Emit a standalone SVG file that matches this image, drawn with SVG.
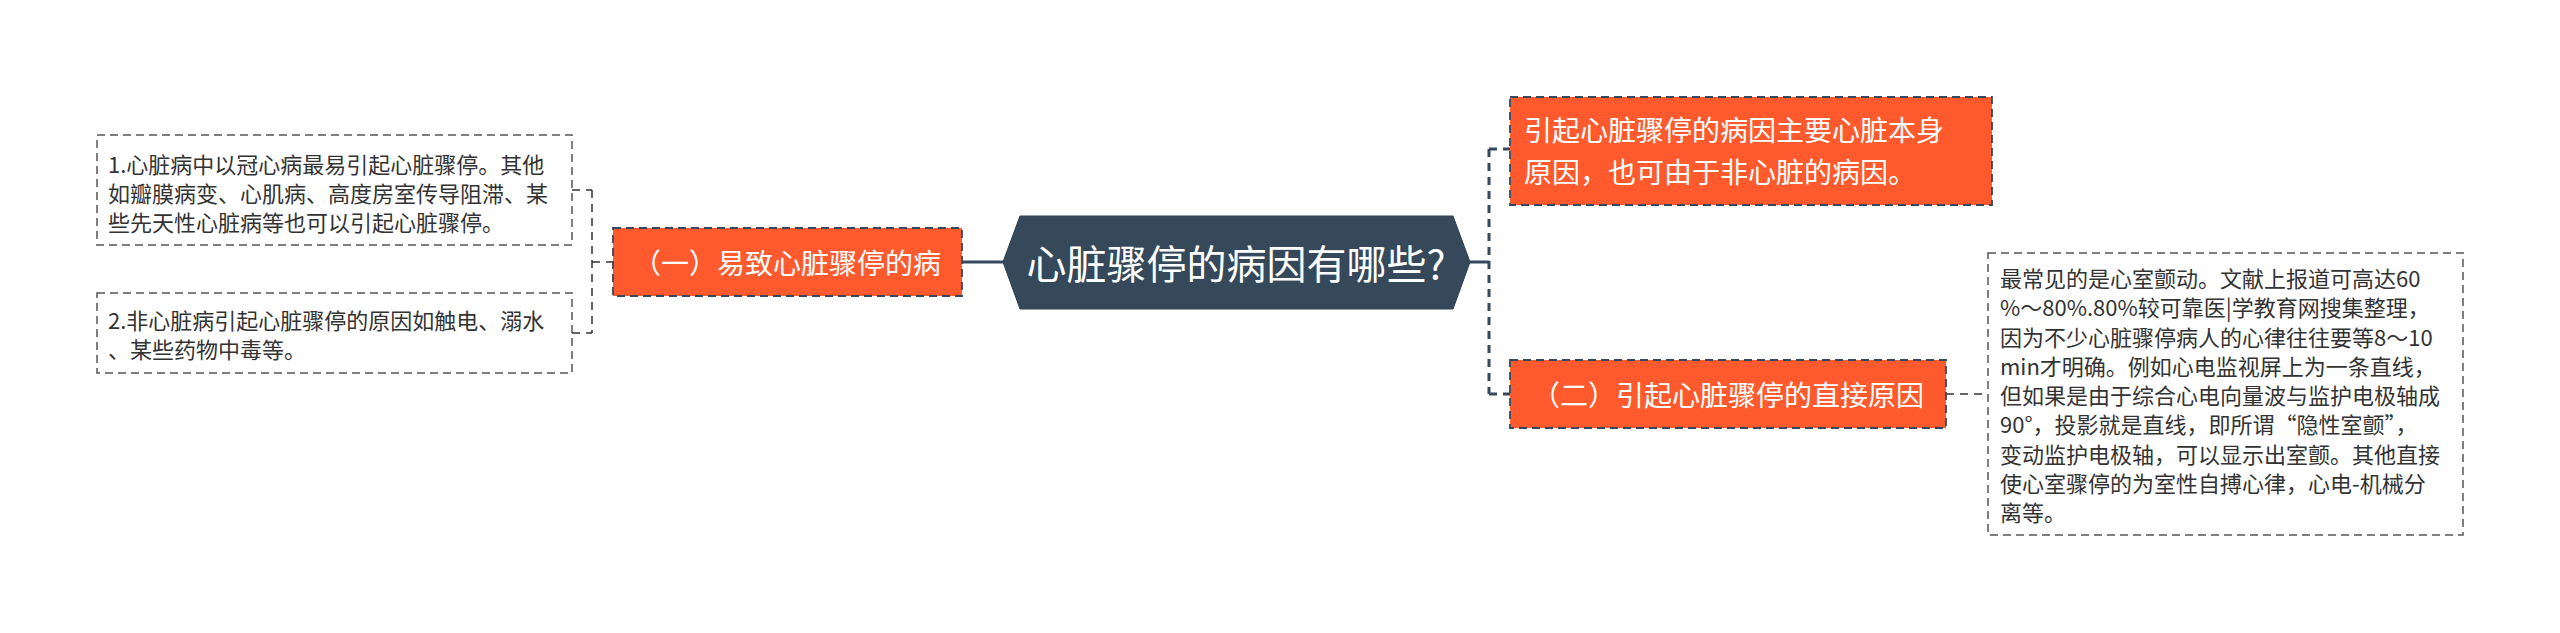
<svg xmlns="http://www.w3.org/2000/svg" width="2560" height="633" viewBox="0 0 2560 633">
<style>
text{font-family:"Noto Sans CJK SC","Noto Sans",sans-serif;dominant-baseline:central}
.leaf rect{fill:#fff;stroke:#555;stroke-width:1.5;stroke-dasharray:8 5}
.leaf text{font-size:22px;fill:#333}
.org rect{fill:#ff5a2d;stroke:#34495e;stroke-width:1.8;stroke-dasharray:8 5}
.org text{font-size:28px;fill:#fff}
.conL{fill:none;stroke:#333;stroke-width:1.5;stroke-dasharray:8 6}
.conR{fill:none;stroke:#34495e;stroke-width:3;stroke-dasharray:8 6}
.solid{fill:none;stroke:#34495e;stroke-width:3}
</style>
<rect width="2560" height="633" fill="#fff"/>
<g id="connectors">
<path class="conL" d="M592,190V333M572,190H592M572,333H592M592,262H613"/>
<path class="solid" d="M962,262H1003M1470,262H1489"/>
<path class="conR" d="M1489,149V394M1489,149H1510M1489,394H1510"/>
<path class="conL" d="M1946,394H1988"/>
</g>
<g id="center">
<polygon points="1003,262 1020,216 1453,216 1470,262 1453,309 1020,309" fill="#36495b" stroke="#2c3e50" stroke-width="1"/>
<text x="1236" y="262" font-size="40" fill="#fff" text-anchor="middle">心脏骤停的病因有哪些?</text>
</g>
<g id="n1" class="org">
<rect x="613" y="228" width="349" height="68"/>
<text x="787" y="262" text-anchor="middle">（一）易致心脏骤停的病</text>
</g>
<g id="n1a" class="leaf">
<rect x="97" y="135" width="475" height="110"/>
<text x="108" y="163">1.心脏病中以冠心病最易引起心脏骤停。其他</text>
<text x="108" y="192">如瓣膜病变、心肌病、高度房室传导阻滞、某</text>
<text x="108" y="221">些先天性心脏病等也可以引起心脏骤停。</text>
</g>
<g id="n1b" class="leaf">
<rect x="97" y="293" width="475" height="80"/>
<text x="108" y="319">2.非心脏病引起心脏骤停的原因如触电、溺水</text>
<text x="108" y="348">、某些药物中毒等。</text>
</g>
<g id="n2" class="org">
<rect x="1510" y="97" width="482" height="108"/>
<text x="1524" y="129">引起心脏骤停的病因主要心脏本身</text>
<text x="1524" y="171">原因，也可由于非心脏的病因。</text>
</g>
<g id="n3" class="org">
<rect x="1510" y="360" width="436" height="68"/>
<text x="1728" y="394" text-anchor="middle">（二）引起心脏骤停的直接原因</text>
</g>
<g id="n3a" class="leaf">
<rect x="1988" y="253" width="475" height="282"/>
<text x="2000" y="277">最常见的是心室颤动。文献上报道可高达60</text>
<text x="2000" y="306">%～80%.80%较可靠医|学教育网搜集整理，</text>
<text x="2000" y="336">因为不少心脏骤停病人的心律往往要等8～10</text>
<text x="2000" y="365">min才明确。例如心电监视屏上为一条直线，</text>
<text x="2000" y="394">但如果是由于综合心电向量波与监护电极轴成</text>
<text x="2000" y="423">90°，投影就是直线，即所谓“隐性室颤”，</text>
<text x="2000" y="453">变动监护电极轴，可以显示出室颤。其他直接</text>
<text x="2000" y="482">使心室骤停的为室性自搏心律，心电-机械分</text>
<text x="2000" y="511">离等。</text>
</g>
</svg>
